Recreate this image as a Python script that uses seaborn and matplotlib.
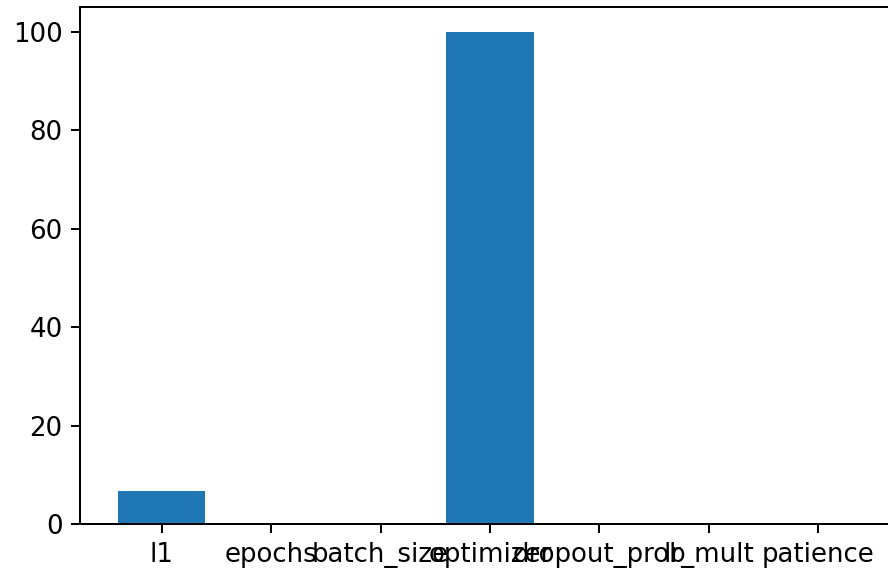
import matplotlib
matplotlib.use("Agg")
from matplotlib import pyplot as plt
import seaborn as sns
import pandas as pd

# hyperparameter importance values
params = ["l1", "epochs", "batch_size", "optimizer", "dropout_prob", "lr_mult", "patience"]
importance = [6.7, 0.0, 0.0, 100.0, 0.0, 0.0, 0.0]

df = pd.DataFrame({"param": params, "importance": importance})

plt.rcParams["font.family"] = ["DejaVu Sans"]
plt.rcParams["font.size"] = 10.4

fig = plt.figure(figsize=(888 / 180, 571 / 180), dpi=180)
# axes runs a bit past the right edge of the picture, like the reference
ax = fig.add_axes([80 / 888, 47 / 571, 819.8 / 888, 517 / 571])

sns.barplot(data=df, x="param", y="importance", color="#1f77b4",
            saturation=1, width=0.8, ax=ax)

ax.set_xlim(-0.747, 6.747)
ax.set_ylim(0, 105)
ax.set_xlabel("")
ax.set_ylabel("")

fig.savefig("out.png", dpi=180)
